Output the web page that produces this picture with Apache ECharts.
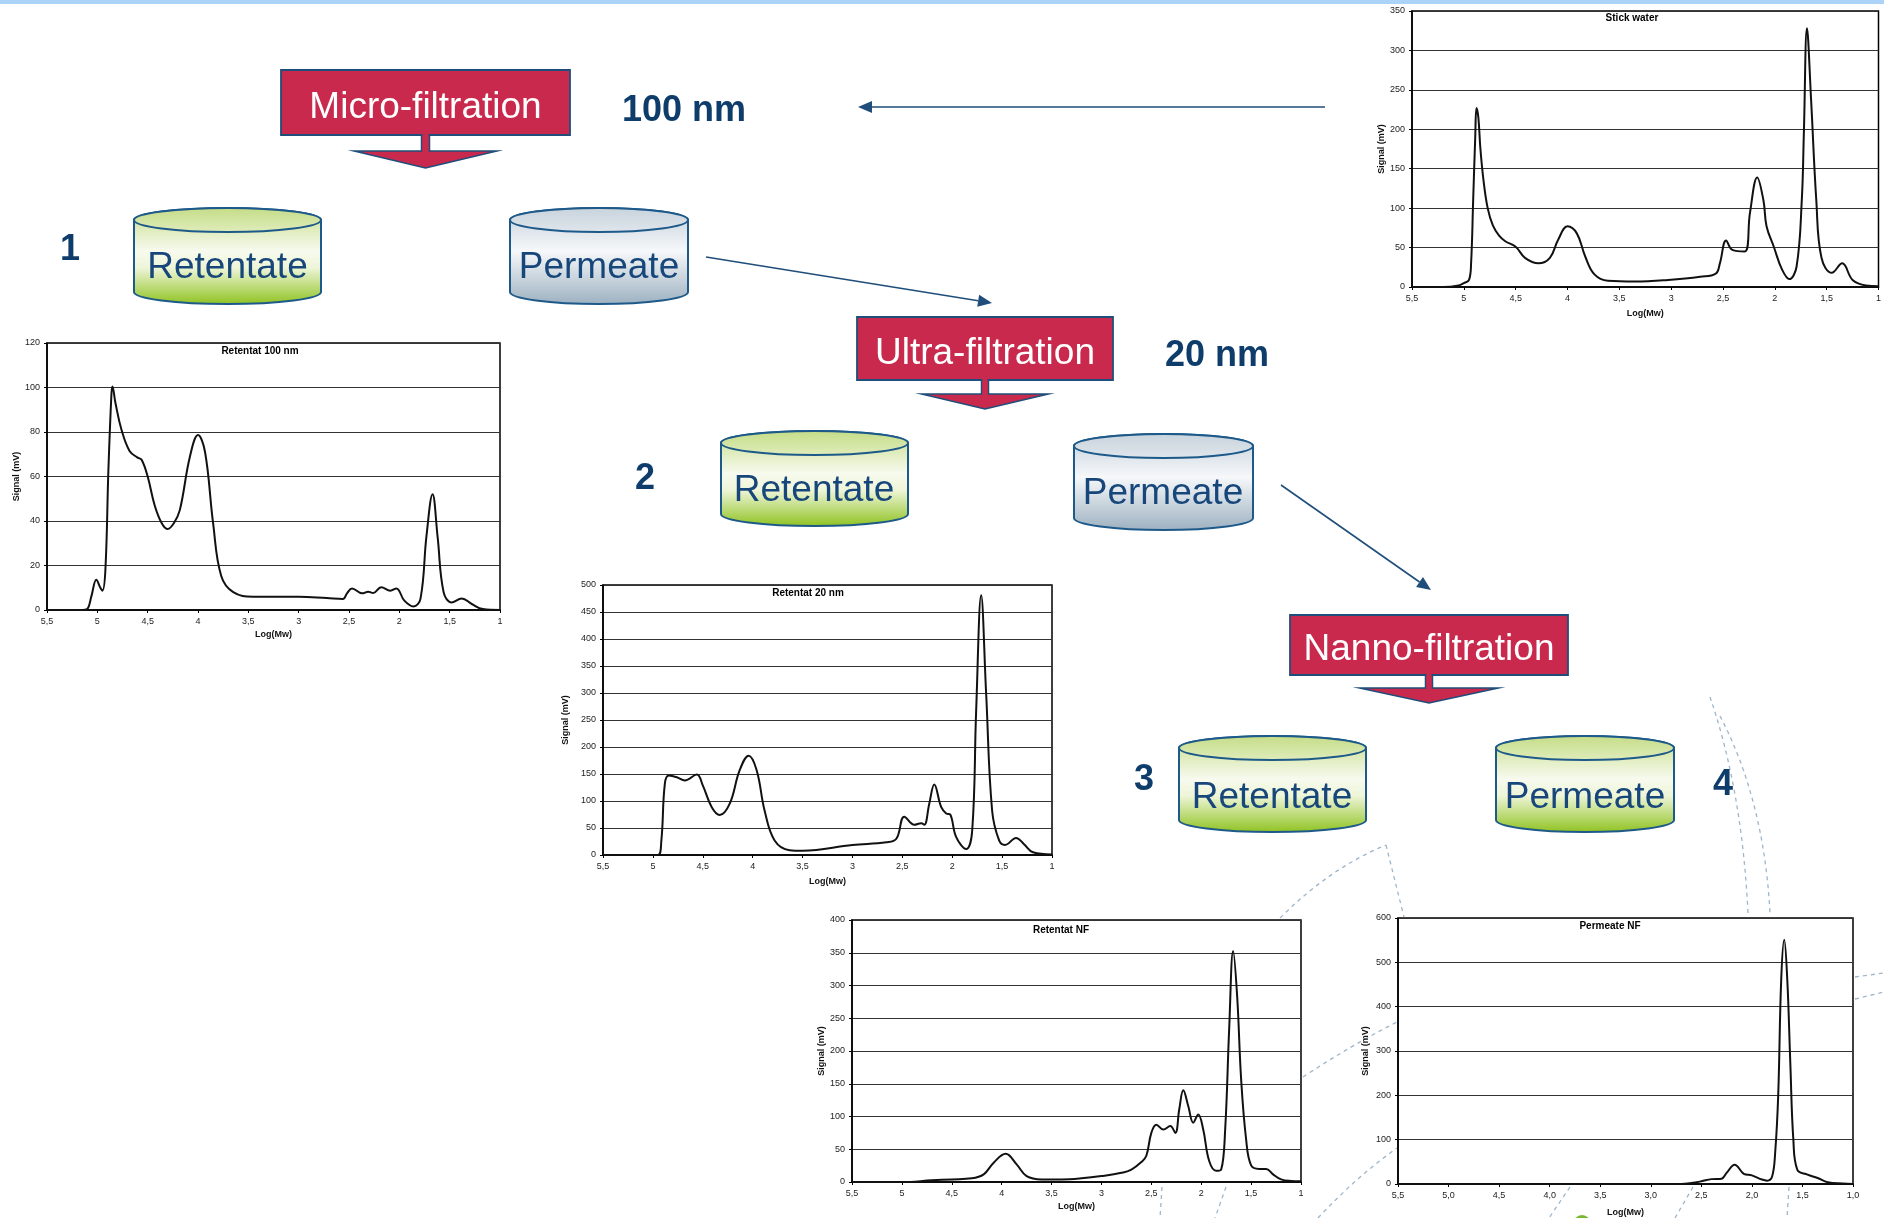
<!DOCTYPE html>
<html><head><meta charset="utf-8">
<script src="https://cdn.jsdelivr.net/npm/echarts@6/dist/echarts.min.js"></script>
<style>html,body{margin:0;padding:0;background:#fff}#c{width:1884px;height:1218px}</style>
</head><body><div id="c"></div>
<script>
// ---------- DATA ----------
const xTickLabels = ['1','1,5','2','2,5','3','3,5','4','4,5','5','5,5'];
const xTickLabelsDec = ['1,0','1,5','2,0','2,5','3,0','3,5','4,0','4,5','5,0','5,5'];

const stickX = [5.5,5.2,5.05,5.0,4.95,4.93,4.91,4.89,4.878,4.86,4.84,4.81,4.77,4.72,4.66,4.6,4.5,4.41,4.28,4.17,4.09,4.0,3.91,3.83,3.74,3.61,3.35,3.03,2.72,2.57,2.53,2.47,2.41,2.29,2.24,2.17,2.11,2.08,2.01,1.93,1.86,1.79,1.74,1.72,1.69,1.65,1.6,1.55,1.45,1.35,1.25,1.12,1.0];
const stickY = [0,0,2,5,9,30,110,190,227,215,175,135,100,78,65,58,51,37,30,37,60,77,68,39,16,8,7,9,13,17,30,59,47,45,94,139,110,77,51,22,10,26,110,195,328,237,110,37,18,30,9,2,1];

const ret100X = [5.5,5.15,5.1,5.06,5.01,4.97,4.95,4.92,4.89,4.86,4.85,4.82,4.76,4.68,4.6,4.56,4.5,4.43,4.36,4.3,4.24,4.18,4.08,4.0,3.93,3.85,3.77,3.65,3.45,3.0,2.72,2.56,2.52,2.47,2.37,2.31,2.26,2.18,2.09,2.03,1.95,1.86,1.79,1.73,1.67,1.62,1.56,1.48,1.38,1.28,1.17,1.0];
const ret100Y = [0,0,0.5,6,13.6,10,8.7,18,63,97,100.5,93,81,71.5,68.5,67.5,60,47,39,36.4,39,45,69,78.6,71,39,15.4,8,6,6,5.4,5,7.5,9.7,7.5,8.2,7.6,10.2,8.7,9.7,4.2,1.6,5,33.4,52,33,8,3.4,5.2,2.7,0.4,0];

const ret20X = [5.5,4.95,4.915,4.88,4.84,4.76,4.68,4.56,4.5,4.41,4.33,4.23,4.13,4.04,3.96,3.88,3.78,3.63,3.5,3.0,2.66,2.56,2.48,2.38,2.31,2.28,2.23,2.18,2.11,2.06,2.02,1.96,1.86,1.8,1.76,1.71,1.66,1.6,1.53,1.47,1.36,1.28,1.19,1.0];
const ret20Y = [0,0,27,132,147,144,138,149,129,88.5,74,95,157,184,157,82,27,9,8,18.6,23.5,30,71,56,59,56,95,130.6,88.5,77,75,33,11,45,268,481,299,82,27,18.6,31.6,20,5,1];

const retNFX = [5.5,5.0,4.7,4.5,4.3,4.18,4.08,3.96,3.85,3.75,3.6,3.4,3.2,3.0,2.8,2.7,2.6,2.55,2.5,2.45,2.38,2.31,2.26,2.22,2.18,2.13,2.08,2.03,1.98,1.92,1.85,1.8,1.76,1.72,1.68,1.64,1.6,1.55,1.5,1.42,1.35,1.28,1.2,1.1,1.0];
const retNFY = [0,0,2.5,4,5.6,11.7,29.5,43,27,9,4,4,5.6,9,14,19,30.5,40,75,87.5,80,85.5,75,111,140,116,90.6,103,80,32,17,19,80,233,352.7,284,157,65,25.4,20,20,11.7,4,1.5,1];

const permNFX = [5.5,2.7,2.6,2.5,2.4,2.3,2.25,2.17,2.08,2.0,1.9,1.85,1.8,1.77,1.74,1.71,1.68,1.65,1.62,1.59,1.55,1.45,1.35,1.25,1.1,1.0];
const permNFY = [0,0,2,6,11,12,25,43.6,23,19.5,10,7.5,17,70,198,461,551,461,273,100,32,21,13.5,4,1,0];

const chartTitles = ['Stick water','Retentat 100 nm','Retentat 20 nm','Retentat NF','Permeate NF'];
const yMaxes = [350,120,500,400,600];
const yIntervals = [50,20,50,50,100];

// ---------- LAYOUT ----------
const FONT = '"Liberation Sans", Arial, sans-serif';
const panels = [
  {x:stickX, y:stickY, ticks:xTickLabels, grid:{left:1412,top:11,width:470,height:276}, tc:[1632,18], yGap:25, xGap:22},
  {x:ret100X, y:ret100Y, ticks:xTickLabels, grid:{left:47,top:343,width:453,height:267}, tc:[260,351], yGap:22, xGap:20},
  {x:ret20X, y:ret20Y, ticks:xTickLabels, grid:{left:603,top:585,width:449,height:270}, tc:[808,593], yGap:33, xGap:22},
  {x:retNFX, y:retNFY, ticks:xTickLabels, grid:{left:852,top:920,width:449,height:262}, tc:[1061,930], yGap:26, xGap:20},
  {x:permNFX, y:permNFY, ticks:xTickLabelsDec, grid:{left:1398,top:918,width:455,height:266}, tc:[1610,926], yGap:28, xGap:24}
];

const grids=[], xAxes=[], yAxes=[], series=[], graphics=[];

// ---------- DIAGRAM (background decorations first) ----------
const BLUE = '#1f4e7a', CRIMSON = '#c8294d', NAVY = '#0f3d6b', CYLTXT = '#17467a';
const TXT_DY = 4;
graphics.push({type:'rect', shape:{x:0,y:0,width:1884,height:4}, style:{fill:'#acd4f8'}});
const dash = {fill:'none', stroke:'#9fb5c9', lineWidth:1.3, lineDash:[4,4]};
function qcurve(x1,y1,cx,cy,x2,y2){graphics.push({type:'bezierCurve', shape:{x1:x1,y1:y1,cpx1:cx,cpy1:cy,x2:x2,y2:y2}, style:dash});}
function seg(pts){graphics.push({type:'polyline', shape:{points:pts}, style:dash});}
qcurve(1280,918,1330,868,1386,845);
seg([[1386,845],[1404,917]]);
qcurve(1710,697,1742,790,1748,913);
qcurve(1720,716,1764,800,1770,913);
qcurve(1303,1077,1350,1046,1397,1022);
qcurve(1318,1218,1355,1178,1397,1148);
seg([[1855,977],[1884,973]]); seg([[1855,999],[1884,992]]);
seg([[1570,1187],[1549,1218]]); seg([[1693,1187],[1675,1218]]); seg([[1789,1187],[1787,1218]]);
seg([[1162,1187],[1160,1218]]); seg([[1226,1187],[1215,1218]]);
graphics.push({type:'circle', shape:{cx:1582,cy:1224,r:9}, style:{fill:'#7cb82f'}});

panels.forEach((p,i)=>{
  grids.push(Object.assign({show:true, backgroundColor:'#fff', borderColor:'#000', borderWidth:1.5}, p.grid));
  const labels = p.ticks;
  xAxes.push({
    type:'value', gridIndex:i, min:1, max:5.5, interval:0.5, inverse:true,
    axisLine:{show:true, onZero:false, lineStyle:{color:'#000', width:1.5}},
    axisTick:{show:true, length:3, lineStyle:{color:'#000'}},
    splitLine:{show:false},
    axisLabel:{fontSize:9, color:'#222', fontFamily:FONT, margin:7,
      formatter:(v)=>labels[Math.round((v-1)/0.5)]},
    name:'Log(Mw)', nameLocation:'middle', nameGap:p.xGap,
    nameTextStyle:{fontSize:9, fontWeight:'bold', color:'#111', fontFamily:FONT}
  });
  yAxes.push({
    type:'value', gridIndex:i, min:0, max:yMaxes[i], interval:yIntervals[i],
    axisLine:{show:true, lineStyle:{color:'#000', width:1.5}},
    axisTick:{show:true, length:3, lineStyle:{color:'#000'}},
    splitLine:{show:true, lineStyle:{color:'#333', width:1}},
    axisLabel:{fontSize:9, color:'#222', fontFamily:FONT, margin:7},
    name:'Signal (mV)', nameLocation:'middle', nameGap:p.yGap,
    nameTextStyle:{fontSize:9, fontWeight:'bold', color:'#111', fontFamily:FONT}
  });
  series.push({
    type:'line', xAxisIndex:i, yAxisIndex:i, symbol:'none', showSymbol:false,
    smooth:0.4, silent:true,
    lineStyle:{color:'#111', width:2},
    data:p.x.map((xv,k)=>[xv,p.y[k]])
  });
  graphics.push({type:'text', z:50, style:{x:p.tc[0], y:p.tc[1], text:chartTitles[i],
    font:'bold 10px '+FONT, fill:'#000', textAlign:'center', textVerticalAlign:'middle'}});
});

function arrow(x1,y1,x2,y2){
  const dx=x2-x1, dy=y2-y1, L=Math.hypot(dx,dy), ux=dx/L, uy=dy/L, hl=14, hw=6;
  const bx=x2-ux*hl, by=y2-uy*hl;
  graphics.push({type:'line', shape:{x1:x1,y1:y1,x2:bx,y2:by}, style:{stroke:BLUE, lineWidth:1.6}});
  graphics.push({type:'polygon', shape:{points:[[x2,y2],[bx-uy*hw,by+ux*hw],[bx+uy*hw,by-ux*hw]]}, style:{fill:BLUE}});
}
arrow(1325,107,858,107);
arrow(706,257,992,303);
arrow(1281,485,1431,590);

function box(x0,y0,x1,y1,label,cx,cy,stemHalf,base,triHalf,apex){
  const mx=(x0+x1)/2;
  graphics.push({type:'polygon', shape:{points:[[mx-stemHalf,y1],[mx+stemHalf,y1],[mx+stemHalf,base],[mx+triHalf,base],[mx,apex],[mx-triHalf,base],[mx-stemHalf,base]]},
    style:{fill:CRIMSON, stroke:BLUE, lineWidth:1.5}});
  graphics.push({type:'rect', shape:{x:x0,y:y0,width:x1-x0,height:y1-y0}, style:{fill:CRIMSON, stroke:BLUE, lineWidth:1.8}});
  graphics.push({type:'rect', shape:{x:mx-stemHalf+1,y:y1-1,width:stemHalf*2-2,height:base-y1+1}, style:{fill:CRIMSON}});
  graphics.push({type:'text', style:{x:cx,y:cy+TXT_DY,text:label,font:'37px '+FONT,fill:'#fff',textAlign:'center',textVerticalAlign:'middle'}});
}
box(281,70,570,135,'Micro-filtration',425.5,104,4,151,71.5,168);
box(857,317,1113,380,'Ultra-filtration',985,350,3.5,394,63.5,409);
box(1290,615,1568,675,'Nanno-filtration',1429,646,3.5,688,69.5,703);

// cylinder body shape
let hasCyl = false;
try {
  const CylBody = echarts.graphic.extendShape({
    shape:{x0:0,x1:0,yt:0,yb:0,ry:12},
    buildPath:function(ctx,s){
      const rx=(s.x1-s.x0)/2, cx=(s.x0+s.x1)/2, k=0.5523, ry=s.ry;
      const y1=s.yt+ry, y2=s.yb-ry;
      ctx.moveTo(s.x0,y1); ctx.lineTo(s.x0,y2);
      ctx.bezierCurveTo(s.x0,y2+k*ry,cx-k*rx,y2+ry,cx,y2+ry);
      ctx.bezierCurveTo(cx+k*rx,y2+ry,s.x1,y2+k*ry,s.x1,y2);
      ctx.lineTo(s.x1,y1);
      ctx.bezierCurveTo(s.x1,y1-k*ry,cx+k*rx,y1-ry,cx,y1-ry);
      ctx.bezierCurveTo(cx-k*rx,y1-ry,s.x0,y1-k*ry,s.x0,y1);
      ctx.closePath();
    }
  });
  echarts.graphic.registerShape('cylBody', CylBody);
  hasCyl = true;
} catch(e) { hasCyl = false; }

const greenBody = {type:'linear',x:0,y:0,x2:0,y2:1,colorStops:[{offset:0,color:'#c6dd88'},{offset:0.45,color:'#f7faee'},{offset:0.62,color:'#eef5d8'},{offset:1,color:'#8ec21e'}]};
const greenTop = {type:'linear',x:0,y:0,x2:0,y2:1,colorStops:[{offset:0,color:'#c4dc86'},{offset:1,color:'#e0edbc'}]};
const greyBody = {type:'linear',x:0,y:0,x2:0,y2:1,colorStops:[{offset:0,color:'#c3cfd9'},{offset:0.45,color:'#f6f8fa'},{offset:1,color:'#9cb0c0'}]};
const greyTop = {type:'linear',x:0,y:0,x2:0,y2:1,colorStops:[{offset:0,color:'#c8d3dc'},{offset:1,color:'#e0e6ec'}]};

function cylinder(x0,x1,yt,yb,label,tx,ty,green){
  const rx=(x1-x0)/2, ry=12, cx=(x0+x1)/2;
  if (hasCyl) {
    graphics.push({type:'cylBody', shape:{x0:x0,x1:x1,yt:yt,yb:yb,ry:ry}, style:{fill:green?greenBody:greyBody, stroke:'#1d5a8a', lineWidth:2}});
  } else {
    graphics.push({type:'ellipse', shape:{cx:cx, cy:yb-ry, rx:rx, ry:ry}, style:{fill:green?'#8ec21e':'#9cb0c0', stroke:'#1d5a8a', lineWidth:2}});
    graphics.push({type:'rect', shape:{x:x0,y:yt+ry,width:x1-x0,height:yb-yt-2*ry}, style:{fill:green?greenBody:greyBody}});
    graphics.push({type:'line', shape:{x1:x0,y1:yt+ry,x2:x0,y2:yb-ry}, style:{stroke:'#1d5a8a', lineWidth:2}});
    graphics.push({type:'line', shape:{x1:x1,y1:yt+ry,x2:x1,y2:yb-ry}, style:{stroke:'#1d5a8a', lineWidth:2}});
  }
  graphics.push({type:'ellipse', shape:{cx:cx, cy:yt+ry, rx:rx, ry:ry}, style:{fill:green?greenTop:greyTop, stroke:'#1d5a8a', lineWidth:2}});
  graphics.push({type:'text', style:{x:tx,y:ty+TXT_DY,text:label,font:'37px '+FONT,fill:CYLTXT,textAlign:'center',textVerticalAlign:'middle'}});
}
cylinder(134,321,208,304,'Retentate',227.5,264,true);
cylinder(510,688,208,304,'Permeate',599,264,false);
cylinder(721,908,431,526,'Retentate',814,487,true);
cylinder(1074,1253,434,530,'Permeate',1163,490,false);
cylinder(1179,1366,736,832,'Retentate',1272,794,true);
cylinder(1496,1674,736,832,'Permeate',1585,794,true);

function label(x,y,t){
  graphics.push({type:'text', style:{x:x,y:y+3,text:t,font:'bold 36px '+FONT,fill:NAVY,textAlign:'center',textVerticalAlign:'middle'}});
}
label(684,108,'100 nm');
label(1217,353,'20 nm');
label(70,247,'1');
label(645,476,'2');
label(1144,777,'3');
label(1723,782,'4');

const chart = echarts.init(document.getElementById('c'), null, {renderer:'canvas', width:1884, height:1218});
chart.setOption({
  animation:false,
  backgroundColor:'#fff',
  textStyle:{fontFamily:FONT},
  grid:grids, xAxis:xAxes, yAxis:yAxes, series:series,
  graphic:{elements:graphics}
});
</script></body></html>
